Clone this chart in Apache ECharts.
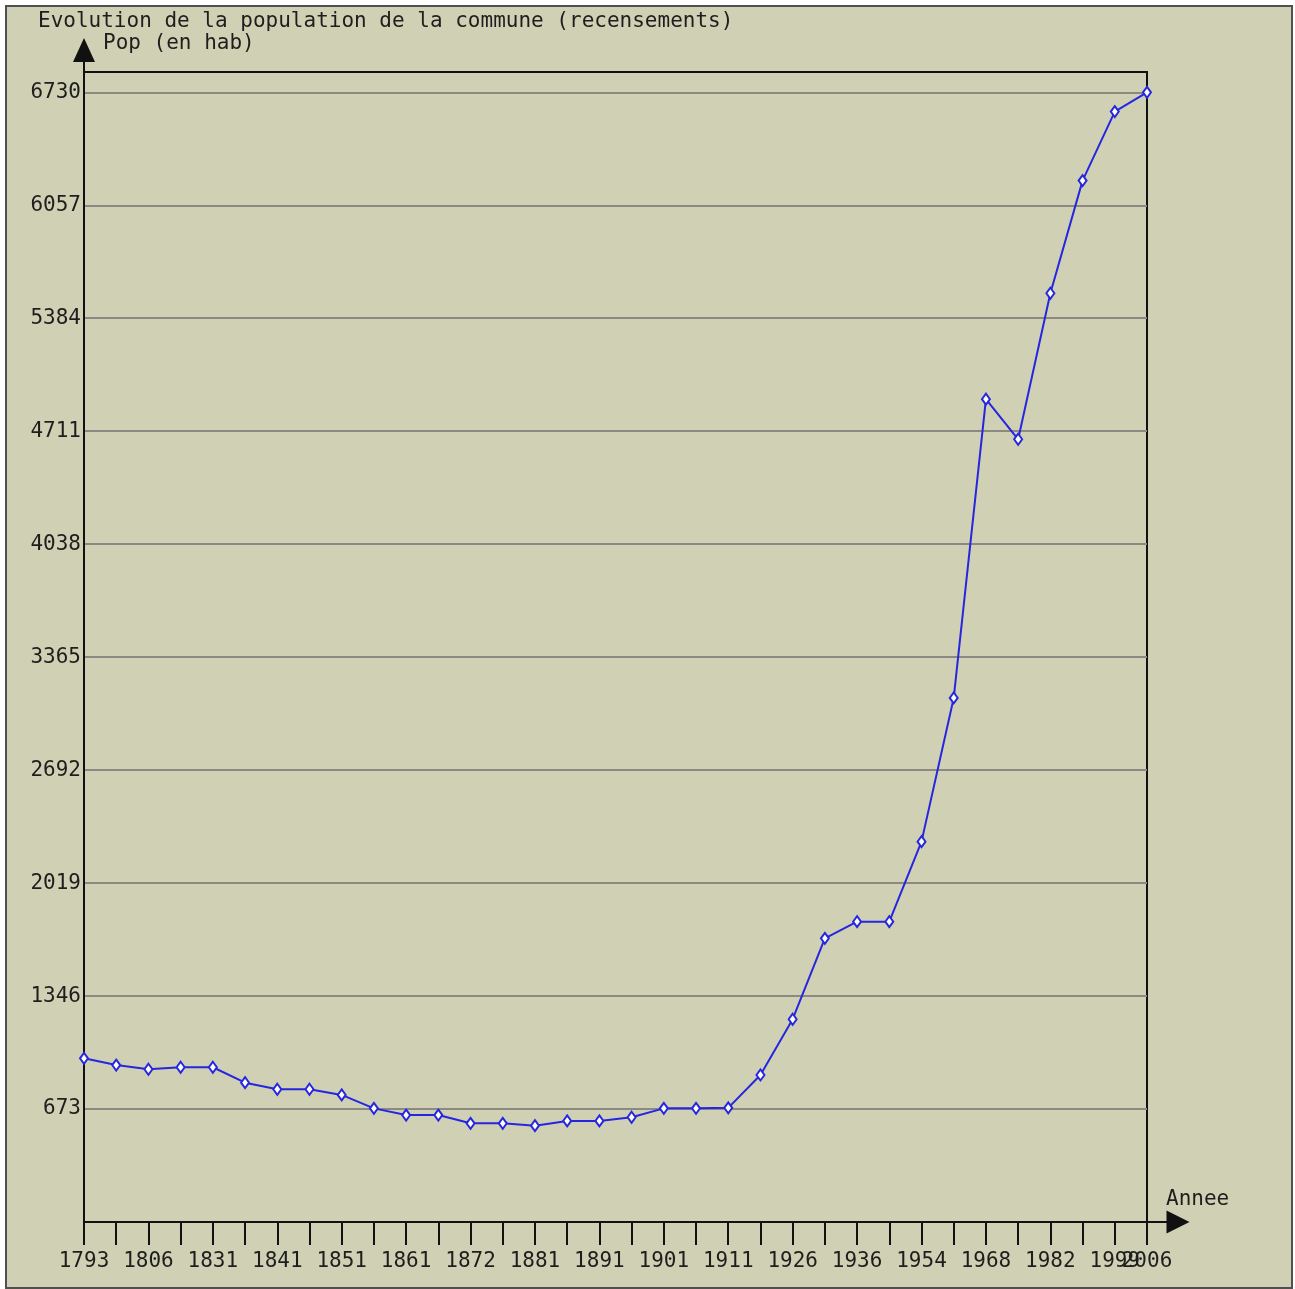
<!DOCTYPE html>
<html>
<head>
<meta charset="utf-8">
<title>Evolution de la population</title>
<script src="https://cdn.jsdelivr.net/npm/echarts@6/dist/echarts.min.js"></script>
<style>
    html, body { margin: 0; padding: 0; background: #ffffff; }
    #frame {
        position: absolute; left: 5px; top: 5px; width: 1284px; height: 1280px;
        border: 2px solid #505050; background: #d0d1b4;
    }
    #chart { position: absolute; left: 0; top: 0; width: 1295px; height: 1289px; }
</style>
</head>
<body>
<div id="frame"></div>
<div id="chart"></div>
<script>
// années de recensement
const years = ['1793', '1800', '1806', '1821', '1831', '1836', '1841', '1846', '1851', '1856',
    '1861', '1866', '1872', '1876', '1881', '1886', '1891', '1896', '1901', '1906',
    '1911', '1921', '1926', '1931', '1936', '1946', '1954', '1962', '1968', '1975',
    '1982', '1990', '1999', '2006'];

// population (habitants)
const population = [975, 935, 910, 922, 922, 830, 791, 791, 757, 677,
    637, 637, 588, 588, 574, 602, 602, 624, 677, 677,
    680, 876, 1208, 1690, 1789, 1789, 2266, 3122, 4902, 4663,
    5533, 6204, 6615, 6730];

const yStep = 673;
const yTop = 6851;

const font = 'DejaVu Sans Mono';
const textColor = '#1e1e1e';
const lastIdx = years.length - 1;

const labelStyle = { fontFamily: font, fontSize: 21, color: textColor };

const chart = echarts.init(document.getElementById('chart'));

chart.setOption({
    backgroundColor: 'transparent',
    animation: false,
    title: {
        text: 'Evolution de la population de la commune (recensements)',
        left: 38, top: 11, padding: 0,
        textStyle: { fontFamily: font, fontSize: 21, fontWeight: 'normal', color: textColor }
    },
    graphic: [
        { type: 'text', left: 103, top: 33,
          style: { text: 'Pop (en hab)', fontFamily: font, fontSize: 21, fill: textColor } },
        { type: 'text', left: 1166, top: 1189,
          style: { text: 'Annee', fontFamily: font, fontSize: 21, fill: textColor } }
    ],
    grid: [
        { left: 84, right: 148, top: 72, bottom: 67, show: true,
          borderColor: '#111', borderWidth: 2, backgroundColor: 'transparent' },
        // axes fléchées
        { left: 84, right: 117, top: 50, bottom: 67 }
    ],
    xAxis: [
        {
            type: 'category', gridIndex: 0, data: years, boundaryGap: false, position: 'bottom',
            axisLine: { show: false },
            axisTick: { show: true, interval: 0, length: 23, lineStyle: { color: '#111', width: 2 } },
            axisLabel: Object.assign({
                interval: (i) => i % 2 === 0 && i !== lastIdx,
                margin: 29
            }, labelStyle),
            splitLine: { show: false }
        },
        {
            // seulement l'étiquette de la dernière année (chevauche 1999 comme l'original)
            type: 'category', gridIndex: 0, data: years, boundaryGap: false, position: 'bottom',
            axisLine: { show: false }, axisTick: { show: false },
            axisLabel: Object.assign({
                interval: (i) => i === lastIdx,
                showMaxLabel: true,
                margin: 29
            }, labelStyle),
            splitLine: { show: false }
        },
        {
            type: 'value', gridIndex: 1, min: 0, max: 1,
            axisLine: { show: true, symbol: ['none', 'triangle'], symbolSize: [23, 23],
                        lineStyle: { color: '#111', width: 2 } },
            axisTick: { show: false }, axisLabel: { show: false }, splitLine: { show: false }
        }
    ],
    yAxis: [
        {
            type: 'value', gridIndex: 0, min: 0, max: yTop, interval: yStep,
            axisLine: { show: false },
            axisTick: { show: false },
            axisLabel: Object.assign({
                margin: 3,
                padding: [0, 0, 8, 0],
                formatter: (v) => (v > 0 && v % yStep === 0) ? String(v) : ''
            }, labelStyle),
            splitLine: { show: true, showMinLine: false, showMaxLine: false,
                         lineStyle: { color: '#8a8a82', width: 2 } }
        },
        {
            type: 'value', gridIndex: 1, min: 0, max: 1,
            axisLine: { show: true, symbol: ['none', 'triangle'], symbolSize: [22, 24],
                        lineStyle: { color: '#111', width: 2 } },
            axisTick: { show: false }, axisLabel: { show: false }, splitLine: { show: false }
        }
    ],
    series: [{
        type: 'line',
        xAxisIndex: 0, yAxisIndex: 0,
        data: population,
        lineStyle: { color: '#2626e0', width: 2 },
        symbol: 'emptyDiamond',
        symbolSize: [8, 11],
        itemStyle: { color: '#2626e0', borderColor: '#1c1c80', borderWidth: 1.5 },
        z: 5
    }]
});
</script>
</body>
</html>
